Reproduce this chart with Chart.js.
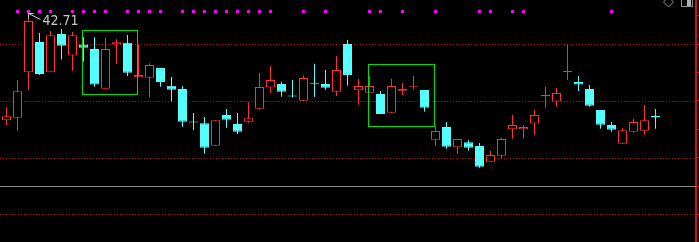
<!DOCTYPE html>
<html>
<head>
<meta charset="utf-8">
<script src="https://cdn.jsdelivr.net/npm/chart.js@4.4.1/dist/chart.umd.min.js"></script>
<style>
    html, body { margin: 0; padding: 0; background: #000; }
    #wrap { width: 699px; height: 242px; position: relative; }
</style>
</head>
<body>
<div id="wrap"><canvas id="kline"></canvas></div>
<script>
// daily bars, oldest first
const opens  = [38.92, 39.01, 40.61, 41.68, 40.61, 41.96, 41.20, 41.59, 41.43, 40.03,
                41.59, 41.65, 40.44, 40.42, 40.76, 40.14, 40.02, 38.88, 38.82, 38.02,
                39.11, 38.79, 38.87, 39.33, 40.08, 40.20, 39.79, 39.61, 40.24, 40.20,
                39.93, 41.61, 39.98, 39.89, 39.85, 39.19, 39.96, 40.10, 39.99, 38.23,
                38.68, 37.97, 38.15, 38.01, 37.46, 37.67, 38.60, 38.60, 38.81, 39.77,
                39.58, 40.61, 40.27, 40.02, 39.28, 38.75, 38.09, 38.52, 38.55, 39.07];
const highs  = [39.38, 40.33, 42.71, 42.00, 42.07, 42.14, 42.03, 41.85, 41.85, 41.82,
                41.78, 41.93, 41.58, 40.93, 40.76, 40.45, 40.13, 39.18, 39.04, 38.92,
                39.32, 39.18, 39.56, 40.59, 40.83, 40.28, 40.34, 40.51, 40.91, 40.69,
                41.19, 41.75, 40.38, 40.48, 39.95, 40.38, 40.23, 40.48, 39.99, 38.71,
                38.86, 38.26, 38.22, 38.12, 37.84, 38.30, 39.11, 38.75, 39.28, 40.09,
                40.06, 41.58, 40.48, 40.16, 39.28, 38.86, 38.64, 38.97, 39.46, 39.32];
const lows   = [38.75, 38.55, 40.00, 40.52, 40.61, 41.06, 40.67, 40.99, 40.10, 40.03,
                40.91, 40.48, 40.44, 39.72, 40.10, 39.58, 38.69, 38.58, 37.74, 38.02,
                38.66, 38.44, 38.83, 39.29, 39.89, 39.75, 39.72, 39.61, 39.75, 40.00,
                39.78, 40.14, 39.47, 39.89, 39.14, 39.19, 39.81, 40.00, 39.22, 38.02,
                37.92, 37.74, 37.85, 37.25, 37.46, 37.56, 38.27, 38.27, 38.41, 39.36,
                39.40, 40.34, 39.95, 39.40, 38.62, 38.52, 38.09, 38.48, 38.41, 38.62];
const closes = [39.06, 39.94, 42.42, 40.55, 41.92, 41.55, 41.92, 41.48, 40.18, 41.43,
                41.67, 40.60, 40.52, 40.87, 40.27, 40.00, 38.87, 38.84, 37.95, 38.92,
                38.94, 38.52, 38.99, 40.09, 40.34, 39.93, 39.76, 40.41, 40.21, 40.07,
                40.69, 40.52, 40.13, 40.13, 39.14, 40.13, 40.02, 40.14, 39.36, 38.54,
                37.99, 38.26, 37.95, 37.28, 37.70, 38.26, 38.75, 38.68, 39.11, 39.81,
                39.88, 40.66, 40.18, 39.43, 38.76, 38.59, 38.57, 38.86, 38.92, 39.02];

// bars that carry a magenta signal dot in the top row
const signalBars = [1, 2, 3, 4, 6, 7, 8, 9, 11, 12, 13, 14, 16, 17, 18, 19, 20, 21, 22, 23,
                    24, 27, 29, 33, 34, 36, 39, 43, 44, 46, 47, 55];
const signalLevel = 42.755;

// green boxes (bar index from/to, price top/bottom)
const boxFrom   = [6.85, 32.88];
const boxTo     = [11.9, 38.86];
const boxTop    = [42.09, 40.89];
const boxBottom = [39.86, 38.71];

// dotted guide levels, panel separator, right axis ticks
const guideLevels = [41.6, 39.6, 37.6, 35.6];
const separatorLevel = 36.62;
const axisTicks = [35.6, 36.6, 37.6, 38.6, 39.6, 40.6, 41.6, 42.6];

const xMax = 62.68;       // 60 bars + empty room on the right
const priceMin = 34.63;
const priceMax = 43.16;

const UP = "#ff3232";
const DOWN = "#54ffff";

// overlay: guide lines, boxes, max label, corner icons
const overlayPlugin = {
    id: "overlay",
    beforeDatasetsDraw(chart) {
        const { ctx, chartArea, scales: { y } } = chart;
        ctx.save();
        ctx.lineWidth = 1;
        ctx.strokeStyle = "#c80000";
        ctx.setLineDash([1, 2]);
        guideLevels.forEach(v => {
            const py = Math.round(y.getPixelForValue(v)) + 0.5;
            ctx.beginPath();
            ctx.moveTo(0, py);
            ctx.lineTo(chartArea.right, py);
            ctx.stroke();
        });
        ctx.setLineDash([]);
        ctx.strokeStyle = "#8c8c8c";
        const sy = Math.round(y.getPixelForValue(separatorLevel)) + 0.5;
        ctx.beginPath();
        ctx.moveTo(0, sy);
        ctx.lineTo(chartArea.right, sy);
        ctx.stroke();
        ctx.restore();
    },
    afterDatasetsDraw(chart) {
        const { ctx, scales: { x, y } } = chart;
        ctx.save();

        // boxes
        ctx.strokeStyle = "#00e000";
        ctx.lineWidth = 1;
        boxFrom.forEach((b, i) => {
            const x0 = Math.round(x.getPixelForValue(b)) + 0.5;
            const x1 = Math.round(x.getPixelForValue(boxTo[i])) + 0.5;
            const y0 = Math.round(y.getPixelForValue(boxTop[i])) + 0.5;
            const y1 = Math.round(y.getPixelForValue(boxBottom[i])) + 0.5;
            ctx.strokeRect(x0, y0, x1 - x0, y1 - y0);
        });

        // label at the highest high
        let im = 0;
        highs.forEach((h, i) => { if (h > highs[im]) im = i; });
        const px = Math.round(x.getPixelForValue(im) - 0.5) + 0.5;
        const py = Math.round(y.getPixelForValue(highs[im])) + 0.5;
        ctx.strokeStyle = "#c8c8c8";
        ctx.beginPath();
        ctx.moveTo(px + 5, py);
        ctx.lineTo(px, py);
        ctx.lineTo(px, py + 5);
        ctx.moveTo(px, py);
        ctx.lineTo(px + 12, py + 6);
        ctx.stroke();
        ctx.fillStyle = "#c8c8c8";
        ctx.font = '14px "Liberation Sans Narrow", "DejaVu Sans Condensed", sans-serif';
        ctx.textBaseline = "alphabetic";
        ctx.fillText(highs[im].toFixed(2), px + 14, py + 11);

        // corner icons
        ctx.strokeStyle = "#909090";
        ctx.beginPath();
        ctx.moveTo(663.5, 2);
        ctx.lineTo(668.5, 7);
        ctx.lineTo(673.5, 2);
        ctx.lineTo(668.5, -3);
        ctx.closePath();
        ctx.stroke();
        ctx.strokeRect(681.5, -1.5, 11, 8);
        ctx.fillStyle = "#b0b0b0";
        ctx.fillRect(687, 0, 4, 6);

        ctx.restore();
    }
};

document.addEventListener("DOMContentLoaded", function () {
    const isUp = i => closes[i] >= opens[i];
    const colorOf = i => (isUp(i) ? UP : DOWN);

    const wickData = opens.map((o, i) => ({ x: i, y: [lows[i], highs[i]] }));
    const bodyData = opens.map((o, i) => ({ x: i, y: [o, closes[i]] }));
    const dotData = signalBars.map(i => ({ x: i, y: signalLevel }));

    const ctx = document.getElementById("kline").getContext("2d");
    new Chart(ctx, {
        type: "bar",
        data: {
            datasets: [
                {
                    label: "body",
                    data: bodyData,
                    backgroundColor: opens.map((o, i) => (isUp(i) ? "#000000" : DOWN)),
                    borderColor: opens.map((o, i) => colorOf(i)),
                    borderWidth: 1,
                    borderSkipped: false,
                    barThickness: 9,
                    inflateAmount: 0,
                    grouped: false,
                    order: 1
                },
                {
                    label: "wick",
                    data: wickData,
                    backgroundColor: opens.map((o, i) => colorOf(i)),
                    borderWidth: 0,
                    barThickness: 1,
                    inflateAmount: 0,
                    grouped: false,
                    order: 2
                },
                {
                    type: "scatter",
                    label: "signal",
                    data: dotData,
                    pointStyle: "rect",
                    pointRadius: 2.13,
                    pointHitRadius: 0,
                    backgroundColor: "#ff00ff",
                    borderWidth: 0,
                    order: 0
                }
            ]
        },
        options: {
            responsive: true,
            maintainAspectRatio: false,
            animation: false,
            layout: { autoPadding: false, padding: { left: 1, top: 0, bottom: 0, right: 0 } },
            plugins: {
                legend: { display: false },
                tooltip: { enabled: false }
            },
            scales: {
                x: {
                    type: "linear",
                    min: -0.5,
                    max: xMax,
                    offset: false,
                    display: false
                },
                y: {
                    position: "right",
                    min: priceMin,
                    max: priceMax,
                    ticks: { display: false },
                    grid: {
                        drawOnChartArea: false,
                        drawTicks: true,
                        tickLength: 3,
                        tickColor: "#d01010"
                    },
                    border: { display: true, color: "#d01010", width: 2 },
                    afterBuildTicks: scale => {
                        scale.ticks = axisTicks.map(v => ({ value: v }));
                    },
                    afterFit: scale => {
                        scale.width = 3;
                    }
                }
            }
        },
        plugins: [overlayPlugin]
    });
});
</script>
</body>
</html>
